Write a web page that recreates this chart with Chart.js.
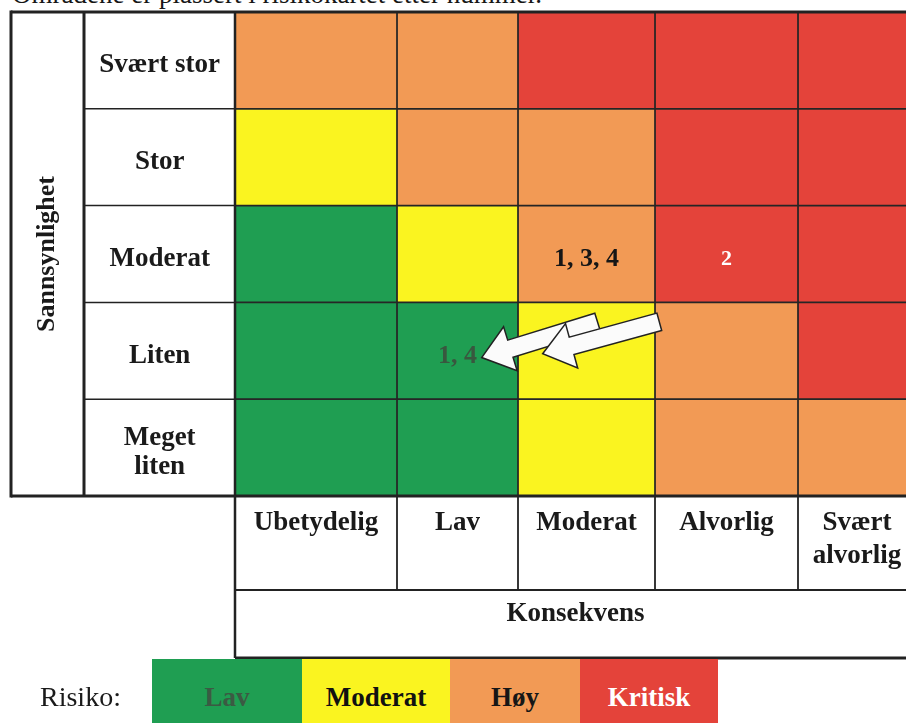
<!DOCTYPE html>
<html>
<head>
<meta charset="utf-8">
<script src="https://cdn.jsdelivr.net/npm/chart.js@4.4.1/dist/chart.umd.min.js"></script>
<style>
  html, body { margin: 0; padding: 0; background: #fff; overflow: hidden; }
  #wrap { position: relative; width: 906px; height: 723px; overflow: hidden; }
  #matrix { position: absolute; left: 0; top: 0; }
  .caption { position: absolute; left: 12px; top: -19px; font: 27px/1 "Liberation Serif", serif; color: #161616; white-space: nowrap; }
  .risk-label { position: absolute; left: 40px; top: 680px; font: 28px/34px "Liberation Serif", serif; color: #1a1a1a; }
  .risk-swatch { position: absolute; top: 659px; height: 70px; font: bold 27px/76px "Liberation Serif", serif; text-align: center; }
</style>
</head>
<body>
<div id="wrap">
  <div class="caption">Områdene er plassert i risikokartet etter nummer.</div>
  <canvas id="matrix" width="916" height="723"></canvas>
  <div class="risk-label">Risiko:</div>
  <div id="legend"></div>
</div>
<script>
const PROBABILITY = ["Svært stor", "Stor", "Moderat", "Liten", ["Meget", "liten"]];
const CONSEQUENCE = ["Ubetydelig", "Lav", "Moderat", "Alvorlig", ["Svært", "alvorlig"]];
const RISK_LEVELS = ["Lav", "Moderat", "Høy", "Kritisk"];

// risk level per cell, rows from "Svært stor" down to "Meget liten"
const RISK_GRID = [
  [2, 2, 3, 3, 3],
  [1, 2, 2, 3, 3],
  [0, 1, 2, 3, 3],
  [0, 0, 1, 2, 3],
  [0, 0, 1, 2, 2],
];

const CELL_NOTES = [
  { row: 2, col: 2, text: "1, 3, 4" },
  { row: 2, col: 3, text: "2" },
  { row: 3, col: 1, text: "1, 4" },
];

// arrows in grid units (column, row) counted from the matrix top-left corner
const MOVES = [
  { from: [2.58, 3.2], to: [1.7, 3.57] },
  { from: [3.03, 3.2], to: [2.18, 3.53] },
];

// layout / style
const COL_WIDTHS = [162, 121, 137, 143, 118];
const LABEL_COL = 74;
const TICK_ROW = 94;
const RISK_COLORS = ["#1f9e52", "#faf420", "#f29a55", "#e4433a"];
const RISK_INK = ["#3b5a43", "#111", "#161616", "#fff"];
const NOTE_INK = ["#39573f", "#111", "#161616", "#fff"];
const LEGEND_WIDTHS = [150, 148, 130, 138];
const LINE = "#222";
const SERIF = "'Liberation Serif', 'Times New Roman', serif";

const colStart = (i) => COL_WIDTHS.slice(0, i).reduce((a, b) => a + b, 0);
const totalWidth = colStart(COL_WIDTHS.length);

function renderLegend() {
  let left = 152;
  document.getElementById("legend").innerHTML = RISK_LEVELS.map((level, i) => {
    const html = `<div class="risk-swatch" style="left:${left}px;width:${LEGEND_WIDTHS[i]}px;background:${RISK_COLORS[i]};color:${RISK_INK[i]}">${level}</div>`;
    left += LEGEND_WIDTHS[i];
    return html;
  }).join("");
}

function drawArrow(ctx, x0, y0, x1, y1) {
  const shaft = 18;
  const headW = 46;
  const headL = 30;
  const len = Math.hypot(x1 - x0, y1 - y0);
  const ang = Math.atan2(y1 - y0, x1 - x0);
  const pts = [
    [0, -shaft / 2], [len - headL, -shaft / 2], [len - headL, -headW / 2],
    [len, 0], [len - headL, headW / 2], [len - headL, shaft / 2], [0, shaft / 2],
  ];
  ctx.save();
  ctx.translate(x0, y0);
  ctx.rotate(ang);
  ctx.beginPath();
  pts.forEach(([px, py], i) => (i ? ctx.lineTo(px, py) : ctx.moveTo(px, py)));
  ctx.closePath();
  ctx.fillStyle = "#fbfbfb";
  ctx.fill();
  ctx.lineWidth = 1.5;
  ctx.strokeStyle = LINE;
  ctx.stroke();
  ctx.restore();
}

const tableFrame = {
  id: "tableFrame",
  afterDatasetsDraw(chart) {
    const { ctx, chartArea: a, scales: { x, y } } = chart;
    const rowH = (a.bottom - a.top) / PROBABILITY.length;
    const gx = (c) => {
      const i = Math.min(Math.floor(c), COL_WIDTHS.length - 1);
      return x.getPixelForValue(colStart(i) + (c - i) * COL_WIDTHS[i]);
    };
    const gy = (r) => a.top + r * rowH;

    // numbers in cells
    ctx.save();
    ctx.textAlign = "center";
    ctx.textBaseline = "middle";
    CELL_NOTES.forEach((note) => {
      const el = chart.getDatasetMeta(note.col).data[note.row];
      const level = RISK_GRID[note.row][note.col];
      ctx.font = `bold ${note.text.length > 1 ? 26 : 22}px ${SERIF}`;
      ctx.fillStyle = NOTE_INK[level];
      ctx.fillText(note.text, (el.x + el.base) / 2, el.y + 5);
    });
    ctx.restore();

    MOVES.forEach((m) => drawArrow(ctx, gx(m.from[0]), gy(m.from[1]), gx(m.to[0]), gy(m.to[1])));

    // table lines
    const outerLeft = y.left + 1;
    const split = y.left + LABEL_COL;
    const tickBottom = a.bottom + TICK_ROW;
    const right = chart.width;
    const seg = (w, x0, y0, x1, y1) => {
      ctx.lineWidth = w;
      ctx.beginPath();
      ctx.moveTo(x0, y0);
      ctx.lineTo(x1, y1);
      ctx.stroke();
    };
    ctx.save();
    ctx.strokeStyle = LINE;
    for (let r = 1; r < PROBABILITY.length; r++) seg(1.5, split, gy(r), a.left, gy(r));
    for (let c = 1; c < COL_WIDTHS.length; c++) seg(1.8, gx(c), a.bottom, gx(c), tickBottom);
    seg(2, a.left, tickBottom, right, tickBottom);
    seg(2.5, a.left, a.top, a.left, x.bottom);
    seg(3, outerLeft, a.top, right, a.top);
    seg(3, outerLeft, a.top - 1.5, outerLeft, a.bottom + 1.5);
    seg(3, split, a.top, split, a.bottom);
    seg(3, outerLeft, a.bottom, right, a.bottom);
    seg(3, a.left, x.bottom, right, x.bottom);
    ctx.restore();
  },
};

const datasets = CONSEQUENCE.map((label, ci) => ({
  label: Array.isArray(label) ? label.join(" ") : label,
  data: PROBABILITY.map(() => COL_WIDTHS[ci]),
  backgroundColor: PROBABILITY.map((_, ri) => RISK_COLORS[RISK_GRID[ri][ci]]),
  borderColor: "#262626",
  borderWidth: 1.2,
  borderSkipped: false,
  barPercentage: 1,
  categoryPercentage: 1,
}));

const tickFont = { family: SERIF, size: 27, weight: "bold", lineHeight: 1.2 };

new Chart(document.getElementById("matrix"), {
  type: "bar",
  data: { labels: PROBABILITY, datasets },
  options: {
    indexAxis: "y",
    responsive: false,
    animation: false,
    layout: { padding: { left: 10, top: 12, right: 0, bottom: 65 } },
    plugins: { legend: { display: false }, tooltip: { enabled: false } },
    scales: {
      x: {
        stacked: true,
        min: 0,
        max: totalWidth,
        grid: { display: false, drawTicks: false },
        border: { display: false },
        afterBuildTicks(scale) {
          scale.ticks = CONSEQUENCE.map((_, i) => ({ value: colStart(i) + COL_WIDTHS[i] / 2 }));
        },
        afterFit(scale) {
          scale.height = 162;
          scale.paddingLeft = 0;
          scale.paddingRight = 0;
        },
        ticks: {
          autoSkip: false,
          minRotation: 0,
          maxRotation: 0,
          padding: 11,
          color: "#1a1a1a",
          font: tickFont,
          callback: (value, index) => CONSEQUENCE[index],
        },
        title: {
          display: true,
          text: "Konsekvens",
          color: "#1a1a1a",
          font: tickFont,
          padding: { top: 0, bottom: 28 },
        },
      },
      y: {
        stacked: true,
        grid: { display: false, drawTicks: false },
        border: { display: false },
        afterFit(scale) {
          scale.width = 225;
          scale.paddingTop = 0;
          scale.paddingBottom = 0;
        },
        ticks: {
          crossAlign: "center",
          padding: 15,
          labelOffset: 5,
          color: "#1a1a1a",
          font: { family: SERIF, size: 27, weight: "bold", lineHeight: 1.1 },
        },
        title: {
          display: true,
          text: "Sannsynlighet",
          color: "#1a1a1a",
          font: { family: SERIF, size: 26, weight: "bold", lineHeight: 1.2 },
          padding: { top: 22, bottom: 0 },
        },
      },
    },
  },
  plugins: [tableFrame],
});

renderLegend();
</script>
</body>
</html>
